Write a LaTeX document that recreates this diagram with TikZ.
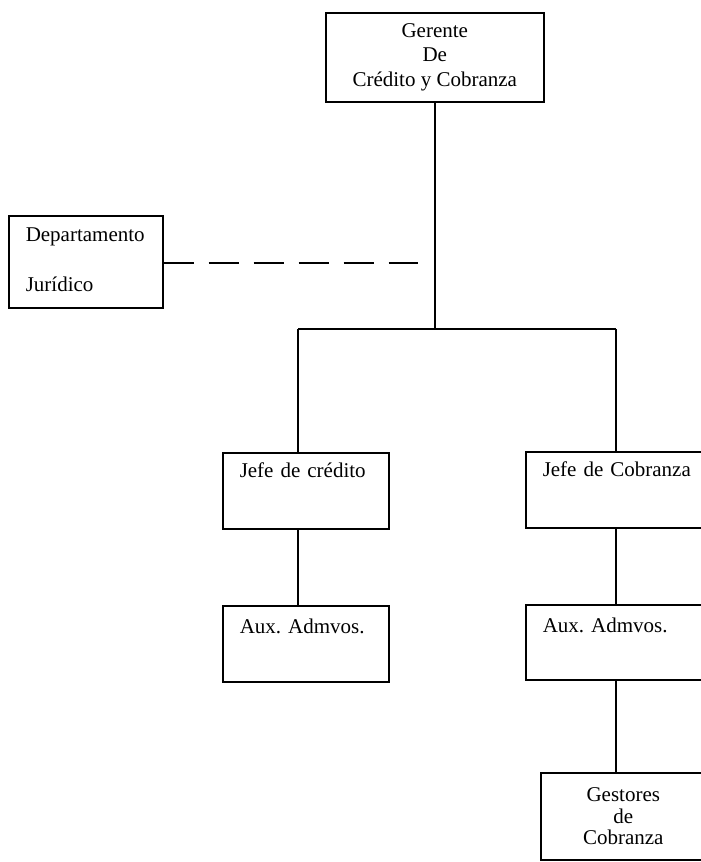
\documentclass[tikz,border=0pt]{standalone}
\usepackage{fontspec}
\setmainfont{Liberation Serif}
\usepackage{tikz}
\usetikzlibrary{calc}
\frenchspacing

\tikzset{
  orgline/.style={line width=1.5pt},
  leftbox/.style={draw, orgline, anchor=north west, inner xsep=17pt, inner ysep=0pt,
    align=left, font=\fontsize{21}{25}\selectfont},
  midbox/.style={draw, orgline, anchor=north west, inner sep=0pt, align=center},
}

\begin{document}
\begin{tikzpicture}[x=1pt, y=-1pt]
    \useasboundingbox (0,0) rectangle (701,862);
    \clip (0,0) rectangle (701,862);
    % Boxes
    \node[midbox, minimum width=218pt, minimum height=89pt,
      font=\fontsize{21}{24.5}\selectfont] (ger) at (325,12) {Gerente\\De\\Crédito y Cobranza};
    \node[leftbox, text width=120pt, text height=26pt, text depth=66pt] (dep) at (8,215)
      {Departamento\\[25pt]Jurídico};
    \node[leftbox, text width=132pt, text height=25pt, text depth=51pt] (jcred) at (222,452) {Jefe de crédito};
    \node[leftbox, text width=156pt, text height=25pt, text depth=51pt] (jcob) at (525,451) {Jefe de Cobranza};
    \node[leftbox, text width=132pt, text height=28pt, text depth=48pt] (auxcred) at (222,605) {Aux. Admvos.};
    \node[leftbox, text width=156pt, text height=28pt, text depth=47pt] (auxcob) at (525,604) {Aux. Admvos.};
    \node[midbox, minimum width=165pt, minimum height=87pt,
      font=\fontsize{21}{21.5}\selectfont] (gest) at (540,772) {Gestores\\de\\Cobranza};
    % Lines
    \coordinate (tee) at (ger.south |- 0,329);
    \coordinate (busl) at (298,329);
    \coordinate (busr) at (616,329);
    \coordinate (dashend) at (418,263);
    \draw[orgline] (ger.south) -- (tee);
    \draw[orgline] (busl) -- (busr);
    \draw[orgline] (busl) -- (busl |- jcred.north);
    \draw[orgline] (busr) -- (busr |- jcob.north);
    \draw[orgline] (busl |- jcred.south) -- (busl |- auxcred.north);
    \draw[orgline] (busr |- jcob.south) -- (busr |- auxcob.north);
    \draw[orgline] (busr |- auxcob.south) -- (busr |- gest.north);
    \draw[orgline, dash pattern=on 30pt off 15pt] (dep.east |- dashend) -- (dashend);
\end{tikzpicture}
\end{document}
